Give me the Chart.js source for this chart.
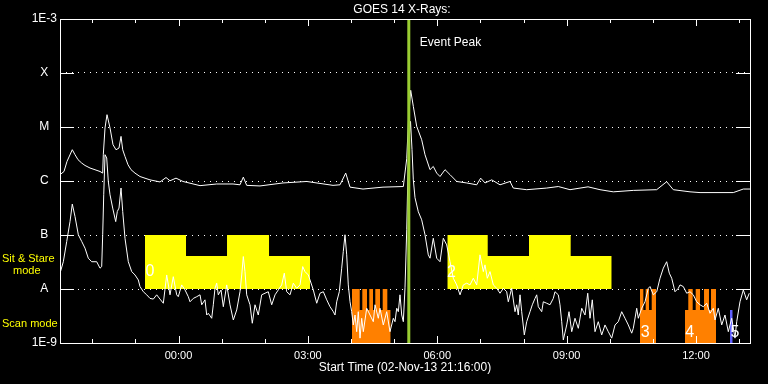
<!DOCTYPE html>
<html><head><meta charset="utf-8">
<script src="https://cdn.jsdelivr.net/npm/chart.js@4/dist/chart.umd.min.js"></script>
<style>html,body{margin:0;padding:0;background:#000;}canvas{display:block}</style>
</head><body>
<canvas id="c" width="768" height="384"></canvas>
<script>
// ---- texts ----
const chartTitle = 'GOES 14 X-Rays:';
const footerText = 'Start Time (02-Nov-13 21:16:00)';
const eventText = 'Event Peak';
// ---- x axis: hours relative to 03-Nov-13 00:00 ----
const xMin = -2.748, xMax = 13.252;
const xTickHours = [0, 3, 6, 9, 12];
const xTickLabels = ['00:00', '03:00', '06:00', '09:00', '12:00'];
const xMinorHours = [-2, -1, 0, 1, 2, 3, 4, 5, 6, 7, 8, 9, 10, 11, 12, 13];
// ---- y axis (W/m^2) ----
const yTickValues = [1e-9, 1e-8, 1e-7, 1e-6, 1e-5, 1e-4, 1e-3];
const yTickLabels = ['1E-9', 'A', 'B', 'C', 'M', 'X', '1E-3'];
const eventPeakTime = 5.34;
// ---- GOES long channel (1-8 A) [hour, flux] ----
const longFlux = [[-2.748,1.31e-6],[-2.655,1.50e-6],[-2.586,2.30e-6],[-2.463,3.8e-6],[-2.40,3.07e-6],[-2.33,2.48e-6],[-2.245,2.15e-6],[-2.168,1.94e-6],[-2.052,1.74e-6],[-1.82,1.50e-6],[-1.758,1.40e-6],[-1.744,3.07e-6],[-1.704,9.6e-6],[-1.658,1.69e-5],[-1.588,9.6e-6],[-1.519,4.70e-6],[-1.449,3.79e-6],[-1.38,4.08e-6],[-1.333,6.7e-6],[-1.294,3.79e-6],[-1.241,2.85e-6],[-1.171,2.00e-6],[-1.101,1.62e-6],[-1.009,1.40e-6],[-0.893,1.21e-6],[-0.661,1.05e-6],[-0.429,9.6e-7],[-0.29,1.16e-6],[-0.197,1.01e-6],[-0.058,1.13e-6],[0.104,9.8e-7],[0.499,8.2e-7],[0.886,8.8e-7],[1.264,8.8e-7],[1.426,8.5e-7],[1.503,1.18e-6],[1.581,8.3e-7],[1.89,8.1e-7],[2.423,9.2e-7],[2.973,9.8e-7],[3.583,8.3e-7],[3.745,8.5e-7],[3.877,1.40e-6],[3.977,7.7e-7],[4.278,7.1e-7],[4.742,7.7e-7],[5.213,7.9e-7],[5.292,2.58e-6],[5.333,1.37e-5],[5.384,4.78e-5],[5.445,2.41e-5],[5.523,1.03e-5],[5.639,5.8e-6],[5.716,3.07e-6],[5.832,1.62e-6],[5.908,1.86e-6],[5.987,1.40e-6],[6.064,1.21e-6],[6.18,1.62e-6],[6.296,1.31e-6],[6.451,9.8e-7],[6.683,9.2e-7],[6.915,8.5e-7],[7.007,1.13e-6],[7.107,9.2e-7],[7.263,1.05e-6],[7.455,8.5e-7],[7.687,9.8e-7],[7.763,7.4e-7],[8.074,6.9e-7],[8.538,7.4e-7],[8.807,7.9e-7],[9.078,6.9e-7],[9.496,7.8e-7],[9.774,6.9e-7],[10.082,6.3e-7],[10.546,6.7e-7],[11.088,6.9e-7],[11.32,9.7e-7],[11.473,6.9e-7],[11.861,6.3e-7],[12.093,6.1e-7],[12.865,6.1e-7],[13.097,7.1e-7],[13.252,7.1e-7]];
// ---- GOES short channel (0.5-4 A) [hour, flux] ----
const shortFlux = [[-2.748,1.96e-8],[-2.671,3.2e-8],[-2.592,7.6e-8],[-2.516,1.77e-7],[-2.463,3.74e-7],[-2.40,2.2e-7],[-2.323,1.01e-7],[-2.245,7.6e-8],[-2.168,5.7e-8],[-2.092,3.72e-8],[-2.013,3.2e-8],[-1.897,3.2e-8],[-1.82,2.43e-8],[-1.781,2.6e-8],[-1.758,1.01e-7],[-1.734,5.56e-7],[-1.704,3.07e-6],[-1.665,2.67e-6],[-1.628,9.8e-7],[-1.588,5.56e-7],[-1.526,3.15e-7],[-1.456,1.77e-7],[-1.419,2.73e-7],[-1.38,3.15e-7],[-1.333,7.4e-7],[-1.294,2.73e-7],[-1.241,8.7e-8],[-1.164,3.2e-8],[-1.085,2.1e-8],[-1.009,1.82e-8],[-0.932,1.47e-8],[-0.893,1.11e-8],[-0.816,8.9e-9],[-0.737,7.8e-9],[-0.661,6.7e-9],[-0.584,6.5e-9],[-0.506,7.8e-9],[-0.429,6.5e-9],[-0.352,5.45e-9],[-0.274,1.82e-8],[-0.197,7.8e-9],[-0.121,1.69e-8],[-0.042,7.8e-9],[-0.005,7.2e-9],[0.074,1.19e-8],[0.151,9.6e-9],[0.227,7.2e-9],[0.267,5.8e-9],[0.343,6.7e-9],[0.422,7.2e-9],[0.499,7.8e-9],[0.538,5.1e-9],[0.614,6.3e-9],[0.654,3.3e-9],[0.691,3.55e-9],[0.77,2.87e-9],[0.807,5.1e-9],[0.846,1.03e-8],[0.886,1.28e-8],[0.923,7.8e-9],[0.986,9.6e-9],[1.039,4.7e-9],[1.118,1.19e-8],[1.194,5.1e-9],[1.271,2.67e-9],[1.35,4.1e-9],[1.426,8.9e-9],[1.466,1.82e-8],[1.503,3.99e-8],[1.542,2.1e-8],[1.581,7.8e-9],[1.658,5.1e-9],[1.711,2.32e-9],[1.774,5.1e-9],[1.85,3.3e-9],[1.929,7.8e-9],[2.006,8.35e-9],[2.082,8.9e-9],[2.161,5.1e-9],[2.238,7.8e-9],[2.314,9.6e-9],[2.393,1.19e-8],[2.453,1.96e-8],[2.509,8.9e-9],[2.586,7.8e-9],[2.662,1.28e-8],[2.741,1.03e-8],[2.817,1.19e-8],[2.88,2.6e-8],[2.933,2.1e-8],[3.01,1.82e-8],[3.049,1.47e-8],[3.126,9.6e-9],[3.205,5.45e-9],[3.281,8.35e-9],[3.358,8.9e-9],[3.437,6.3e-9],[3.513,4.7e-9],[3.59,3.8e-9],[3.629,3.3e-9],[3.668,5.8e-9],[3.729,8.9e-9],[3.784,2.43e-8],[3.821,4.94e-8],[3.861,1.01e-7],[3.9,4.29e-8],[3.937,1.19e-8],[3.977,5.8e-9],[4.016,3.8e-9],[4.053,2.16e-9],[4.093,3.3e-9],[4.132,1.62e-9],[4.169,3.8e-9],[4.209,1.23e-9],[4.248,2.87e-9],[4.285,1.62e-9],[4.364,4.4e-9],[4.441,3.3e-9],[4.517,2.48e-9],[4.557,5.1e-9],[4.633,2.87e-9],[4.672,4.4e-9],[4.749,2.16e-9],[4.828,3.8e-9],[4.904,1.62e-9],[4.981,2.87e-9],[5.02,2.48e-9],[5.06,4.4e-9],[5.097,3.8e-9],[5.136,7.8e-9],[5.176,3.3e-9],[5.213,2.48e-9],[5.252,1.05e-8],[5.292,1.25e-7],[5.322,1.62e-6],[5.357,7.2e-6],[5.38,1.27e-5],[5.415,3.8e-6],[5.445,1.05e-6],[5.484,4.9e-7],[5.561,2.69e-7],[5.639,1.91e-7],[5.716,1.01e-7],[5.792,4.29e-8],[5.832,3.72e-8],[5.908,8.7e-8],[5.987,3.72e-8],[6.064,3.2e-8],[6.14,8.7e-8],[6.219,6.57e-8],[6.296,3.2e-8],[6.372,1.58e-8],[6.451,1.19e-8],[6.528,7.8e-9],[6.604,1.19e-8],[6.683,1.28e-8],[6.759,1.19e-8],[6.836,1.58e-8],[6.915,1.19e-8],[6.991,4.29e-8],[7.068,2.1e-8],[7.107,2.8e-8],[7.161,1.58e-8],[7.223,2.1e-8],[7.3,1.19e-8],[7.379,1.03e-8],[7.455,8.35e-9],[7.532,1.03e-8],[7.61,8.9e-9],[7.647,5.8e-9],[7.726,1.03e-8],[7.803,3.8e-9],[7.842,5.1e-9],[7.879,3.3e-9],[7.919,7.8e-9],[7.958,3.8e-9],[8.019,1.41e-9],[8.074,2.48e-9],[8.151,3.8e-9],[8.204,5.1e-9],[8.267,6.7e-9],[8.306,7.8e-9],[8.343,4.7e-9],[8.422,3.8e-9],[8.459,5.8e-9],[8.538,5.45e-9],[8.614,5.1e-9],[8.691,6.7e-9],[8.73,8.9e-9],[8.807,7.8e-9],[8.846,5.1e-9],[8.886,2.48e-9],[8.923,1.14e-9],[9.002,2.16e-9],[9.055,3.8e-9],[9.118,1.62e-9],[9.194,2.87e-9],[9.271,1.87e-9],[9.35,4.4e-9],[9.426,3.3e-9],[9.489,8.35e-9],[9.542,2.87e-9],[9.595,6.3e-9],[9.658,1.62e-9],[9.734,2.48e-9],[9.813,1.41e-9],[9.89,2.16e-9],[9.966,1.62e-9],[10.045,1.23e-9],[10.122,2.16e-9],[10.198,2.48e-9],[10.277,3.8e-9],[10.354,2.87e-9],[10.43,2.16e-9],[10.509,1.52e-9],[10.546,1.87e-9],[10.625,4.4e-9],[10.662,2.87e-9],[10.741,4.4e-9],[10.817,5.8e-9],[10.894,1.03e-8],[10.933,1.11e-8],[11.01,7.8e-9],[11.089,8.9e-9],[11.165,1.58e-8],[11.242,2.43e-8],[11.32,3.2e-8],[11.381,1.96e-8],[11.437,1.58e-8],[11.513,8.9e-9],[11.59,1.03e-8],[11.629,1.19e-8],[11.705,1.11e-8],[11.784,8.35e-9],[11.861,8.9e-9],[11.937,7.8e-9],[12.016,5.8e-9],[12.093,5.1e-9],[12.169,4.7e-9],[12.248,5.45e-9],[12.325,3.55e-9],[12.401,4.4e-9],[12.441,2.67e-9],[12.517,4.4e-9],[12.596,2.16e-9],[12.672,3.3e-9],[12.749,1.62e-9],[12.828,2.87e-9],[12.904,1.23e-9],[12.944,2.48e-9],[13.02,5.8e-9],[13.097,9.6e-9],[13.136,7.8e-9],[13.175,6.3e-9],[13.235,8.35e-9]];
// ---- observing modes: step edges [hour, level] ----
const sitStare1 = [[-0.777,1e-7],[0.174,4.1e-8],[1.125,1e-7],[2.099,4.1e-8],[3.049,4.1e-8]];
const sitStare2 = [[6.233,1e-7],[7.170,4.1e-8],[8.128,1e-7],[9.094,4.1e-8],[10.045,4.1e-8]];
const scan1 = [[4.023,1e-8],[4.202,4.1e-9],[4.262,1e-8],[4.371,4.1e-9],[4.424,1e-8],[4.510,4.1e-9],[4.563,1e-8],[4.672,4.1e-9],[4.735,1e-8],[4.842,4.1e-9],[4.920,4.1e-9]];
const scan3 = [[10.701,1e-8],[10.778,4.1e-9],[10.833,1e-8],[10.910,4.1e-9],[10.973,1e-8],[11.073,1e-8]];
const scan4 = [[11.745,4.1e-9],[11.821,1e-8],[11.923,4.1e-9],[11.993,1e-8],[12.093,4.1e-9],[12.186,1e-8],[12.301,4.1e-9],[12.348,1e-8],[12.464,1e-8]];
const scan5 = [[12.788,4.1e-9],[12.851,4.1e-9]];
const sitStareBase = 1e-8;
const scanBase = 1e-9;
// ---- observation number labels ----
const obsLabels = ['0', '2', '3', '4', '5'];
const obsLabelTimes = [-0.661, 6.33, 10.824, 11.854, 12.904];
const obsLabelFlux = [2.1e-8, 2.05e-8, 1.58e-9, 1.58e-9, 1.58e-9];

const FONT = '"Liberation Sans", Arial, sans-serif';
const toXY = arr => arr.map(([x, y]) => ({x, y}));

function stepSet(arr, color, base) {
  return {data: toXY(arr), stepped: true, borderWidth: 0, borderColor: color,
    backgroundColor: color, pointRadius: 0, fill: {value: base}};
}

const decor = {
  id: 'decor',
  afterDatasetsDraw(chart) {
    const {ctx, chartArea: a, scales: {x, y}} = chart;
    ctx.save();
    // observation numbers
    ctx.fillStyle = '#fff';
    ctx.font = '16px ' + FONT;
    ctx.textAlign = 'center'; ctx.textBaseline = 'middle';
    obsLabels.forEach((s, i) => ctx.fillText(s, x.getPixelForValue(obsLabelTimes[i]), y.getPixelForValue(obsLabelFlux[i])));
    // frame
    ctx.strokeStyle = '#fff'; ctx.lineWidth = 1;
    ctx.strokeRect(a.left + 0.5, a.top + 0.5, a.right - a.left, a.bottom - a.top);
    ctx.beginPath();
    xMinorHours.forEach(h => {
      const px = Math.round(x.getPixelForValue(h)) + 0.5;
      const len = xTickHours.includes(h) ? 7 : 4;
      ctx.moveTo(px, a.bottom); ctx.lineTo(px, a.bottom - len);
      ctx.moveTo(px, a.top); ctx.lineTo(px, a.top + len);
    });
    yTickValues.slice(1, -1).forEach(v => {
      const py = Math.round(y.getPixelForValue(v)) + 0.5;
      ctx.moveTo(a.left, py); ctx.lineTo(a.left + 14, py);
      ctx.moveTo(a.right - 14, py); ctx.lineTo(a.right, py);
    });
    ctx.stroke();
    // texts
    ctx.fillStyle = '#fff';
    ctx.font = '12px ' + FONT;
    ctx.textAlign = 'left'; ctx.textBaseline = 'middle';
    ctx.fillText(eventText, x.getPixelForValue(eventPeakTime) + 11, a.top + 24);
    ctx.textAlign = 'center';
    ctx.fillText(chartTitle, (a.left + a.right) / 2 - 3, 10);
    ctx.fillText(footerText, (a.left + a.right) / 2, 368);
    ctx.fillStyle = '#ffff00';
    ctx.font = '11px ' + FONT;
    ctx.textAlign = 'left';
    ctx.fillText('Sit & Stare', 2, 259);
    ctx.fillText('mode', 13, 271);
    ctx.fillText('Scan mode', 2, 324);
    ctx.restore();
  }
};

new Chart(document.getElementById('c'), {
  type: 'line',
  data: {
    datasets: [
      {data: toXY([[eventPeakTime, 1e-9], [eventPeakTime, 1e-3]]), borderColor: '#9acd32', borderWidth: 3, pointRadius: 0},
      {data: toXY(shortFlux), borderColor: '#fff', borderWidth: 1, pointRadius: 0, tension: 0},
      {data: toXY(longFlux), borderColor: '#fff', borderWidth: 1, pointRadius: 0, tension: 0},
      stepSet(sitStare1, '#ffff00', sitStareBase),
      stepSet(sitStare2, '#ffff00', sitStareBase),
      stepSet(scan1, '#ff8000', scanBase),
      stepSet(scan3, '#ff8000', scanBase),
      stepSet(scan4, '#ff8000', scanBase),
      stepSet(scan5, '#6060ff', scanBase)
    ]
  },
  options: {
    responsive: false, animation: false, devicePixelRatio: 1,
    layout: {padding: {top: 19, right: 18, left: 0, bottom: 0}},
    plugins: {legend: {display: false}, tooltip: {enabled: false}},
    scales: {
      x: {
        type: 'linear', min: xMin, max: xMax,
        grid: {display: false, drawTicks: false},
        border: {display: false},
        afterBuildTicks: s => { s.ticks = xTickHours.map(v => ({value: v})); },
        afterFit: s => { s.height = 41; },
        ticks: {color: '#fff', font: {family: FONT, size: 11}, padding: 6, maxRotation: 0,
          callback: (v, i) => xTickLabels[i]}
      },
      y: {
        type: 'logarithmic', min: 1e-9, max: 1e-3,
        grid: {color: '#fff', drawTicks: false, lineWidth: 1},
        border: {display: false, dash: [1, 5]},
        afterBuildTicks: s => { s.ticks = yTickValues.map(v => ({value: v})); },
        afterFit: s => { s.width = 60; },
        ticks: {color: '#fff', font: {family: FONT, size: 12}, padding: 3, crossAlign: 'center',
          callback: (v, i) => yTickLabels[i]}
      }
    }
  },
  plugins: [decor]
});
</script>
</body></html>
